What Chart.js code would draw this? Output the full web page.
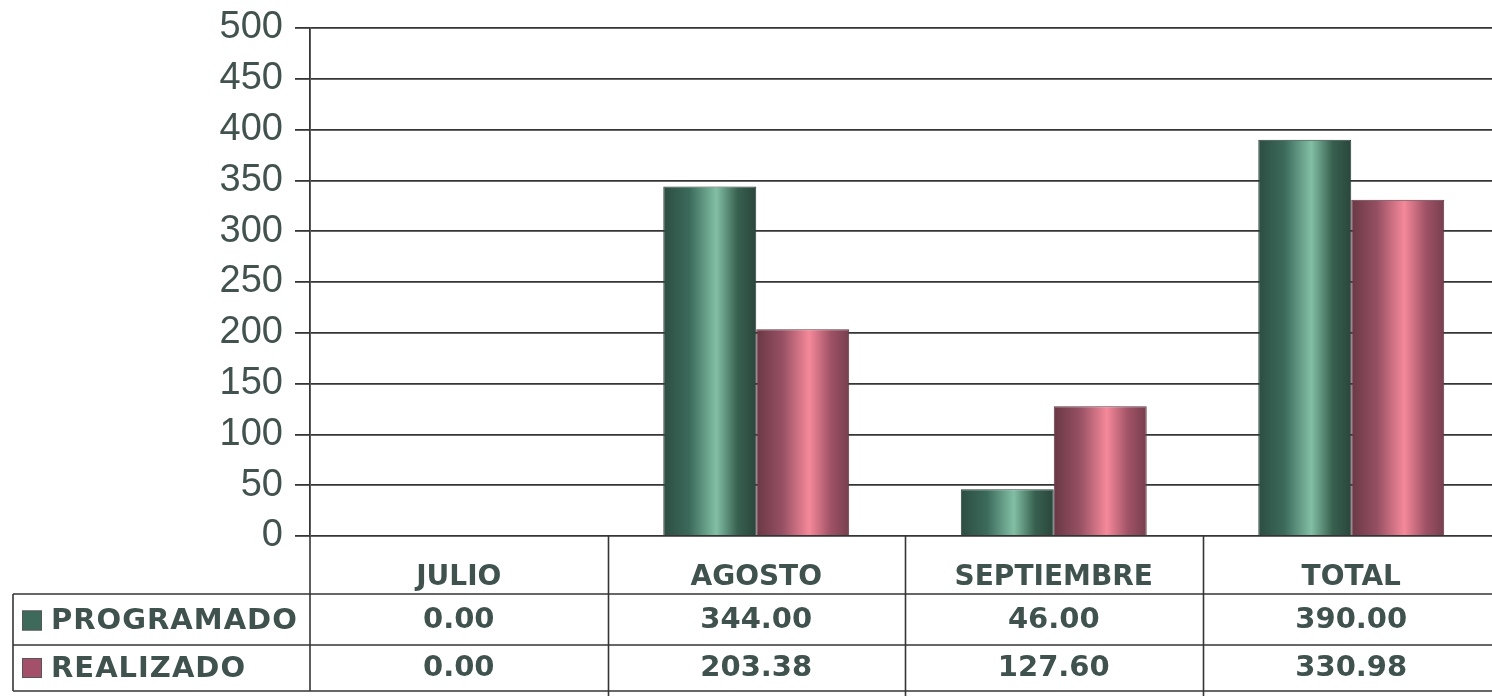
<!DOCTYPE html>
<html><head><meta charset="utf-8">
<script src="https://cdn.jsdelivr.net/npm/chart.js@4.4.1/dist/chart.umd.min.js"></script>
<style>html,body{margin:0;padding:0;background:#fff;overflow:hidden;width:1492px;height:696px}canvas{display:block}</style>
</head><body><canvas id="c" width="1500" height="696"></canvas>
<script>
// ---- data ----
const categories = ['JULIO', 'AGOSTO', 'SEPTIEMBRE', 'TOTAL'];
const seriesNames = ['PROGRAMADO', 'REALIZADO'];
const programado = [0.00, 344.00, 46.00, 390.00];
const realizado = [0.00, 203.38, 127.60, 330.98];
const yMin = 0, yMax = 500, yStep = 50;

// ---- styles ----
const greenStops = ['#2c4d42', '#3b6a5b', '#82bfa5', '#37604f', '#2a463c'];
const redStops = ['#6a3845', '#965063', '#f5899a', '#a05266', '#763f4e'];
const markerColors = ['#3e6a5c', '#a5506a'];
const textColor = '#3f524d';
const lineColor = '#353535';

function cyl(stops) {
  return function (c) {
    const chart = c.chart;
    const meta = chart.getDatasetMeta(c.datasetIndex);
    const el = c.element || (meta && meta.data ? meta.data[c.dataIndex] : null);
    if (!el || !isFinite(el.x) || !isFinite(el.width) || el.width <= 0) return stops[1];
    const x0 = el.x - el.width / 2, x1 = el.x + el.width / 2;
    const g = chart.ctx.createLinearGradient(x0, 0, x1, 0);
    g.addColorStop(0, stops[0]);
    g.addColorStop(0.28, stops[1]);
    g.addColorStop(0.57, stops[2]);
    g.addColorStop(0.8, stops[3]);
    g.addColorStop(1, stops[4]);
    return g;
  };
}

const tablePlugin = {
  id: 'dataTable',
  afterDraw(chart) {
    const { ctx, chartArea: ca, scales } = chart;
    const x = scales.x;
    const n = categories.length;
    const colW = (ca.right - ca.left) / n;
    const hdrLine = ca.bottom + 58, rowLine = ca.bottom + 109, botLine = ca.bottom + 155;
    const boxLeft = 13;
    const line = (x0, y0, x1, y1) => { ctx.beginPath(); ctx.moveTo(x0, y0); ctx.lineTo(x1, y1); ctx.stroke(); };
    ctx.save();
    ctx.strokeStyle = lineColor;
    ctx.lineWidth = 1.6;
    for (let i = 1; i < n; i++) {
      const xx = Math.round(x.getPixelForValue(i) - colW / 2) + 0.5;
      line(xx, ca.bottom, xx, chart.height);
    }
    line(ca.left, ca.bottom, ca.left, botLine);
    [hdrLine, rowLine, botLine].forEach(y => line(boxLeft, y, chart.width, y));
    line(boxLeft, hdrLine, boxLeft, botLine);

    ctx.fillStyle = textColor;
    ctx.textAlign = 'center';
    ctx.textBaseline = 'middle';
    ctx.font = 'bold 28px "DejaVu Sans"';
    const hY = (ca.bottom + hdrLine) / 2 + 13;
    const r1Y = (hdrLine + rowLine) / 2 + 1;
    const r2Y = (rowLine + botLine) / 2 + 0;
    categories.forEach((c, i) => ctx.fillText(c, x.getPixelForValue(i), hY));
    ctx.font = 'bold 29px "DejaVu Sans"';
    programado.forEach((v, i) => ctx.fillText(v.toFixed(2), x.getPixelForValue(i), r1Y));
    realizado.forEach((v, i) => ctx.fillText(v.toFixed(2), x.getPixelForValue(i), r2Y));

    // legend keys
    ctx.textAlign = 'left';
    ctx.font = 'bold 29px "DejaVu Sans"';
    try { ctx.letterSpacing = '1px'; } catch (e) {}
    [r1Y, r2Y].forEach((yy, k) => {
      ctx.fillStyle = markerColors[k];
      ctx.fillRect(22, yy - 10, 20, 20);
      ctx.strokeStyle = '#555';
      ctx.lineWidth = 1;
      ctx.strokeRect(22.5, yy - 9.5, 19, 19);
      ctx.fillStyle = textColor;
      ctx.fillText(seriesNames[k], 51, yy + 1);
    });
    ctx.restore();
  }
};

const chart = new Chart(document.getElementById('c'), {
  type: 'bar',
  data: {
    labels: categories,
    datasets: [
      { label: seriesNames[0], data: programado, backgroundColor: cyl(greenStops), borderColor: '#2a3f38', borderWidth: 1 },
      { label: seriesNames[1], data: realizado, backgroundColor: cyl(redStops), borderColor: '#5e3540', borderWidth: 1 }
    ]
  },
  options: {
    responsive: false,
    devicePixelRatio: 1,
    animation: false,
    layout: { padding: { top: 28, bottom: 160, left: 0, right: 0 } },
    datasets: { bar: { categoryPercentage: 0.625, barPercentage: 1.0 } },
    plugins: { legend: { display: false }, tooltip: { enabled: false } },
    scales: {
      x: { display: false, offset: true },
      y: {
        min: yMin, max: yMax,
        ticks: { stepSize: yStep, color: '#42524f', padding: 12, font: { family: '"Liberation Sans", Arial', size: 38 } },
        grid: { color: lineColor, lineWidth: 1.8, tickLength: 15, drawTicks: true },
        border: { display: true, color: lineColor, width: 1.8 },
        afterFit(scale) { scale.width = 310; scale.paddingTop = 0; scale.paddingBottom = 0; }
      }
    }
  },
  plugins: [tablePlugin]
});
chart.update();
</script>
</body></html>
